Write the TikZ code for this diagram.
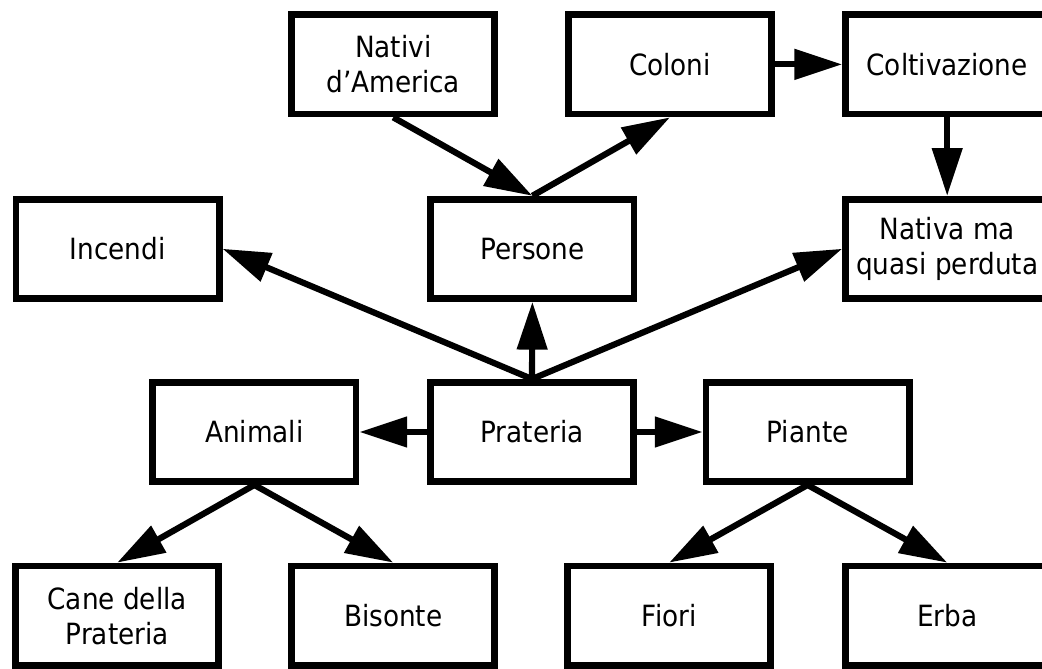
\documentclass[tikz,border=0pt]{standalone}
\usepackage{fontspec}
\setmainfont{DejaVu Sans}[FakeStretch=0.9]
\usetikzlibrary{arrows.meta}

\begin{document}
\begin{tikzpicture}[
    box/.style={draw, line width=4.8pt, minimum width=5.08cm, minimum height=2.48cm,
      align=center, font=\fontsize{20.8}{24.9}\selectfont},
    arr/.style={->, line width=4.4pt},
    >={Triangle[length=34pt,width=21pt]}
  ]
    \useasboundingbox (0cm,0cm) rectangle (26.05cm,16.7cm);

    \node[box] (nativi)   at (9.83cm,15.09cm)  {Nativi\\d’America};
    \node[box] (coloni)   at (16.75cm,15.09cm) {Coloni};
    \node[box] (coltiv)   at (23.68cm,15.09cm) {Coltivazione};
    \node[box] (incendi)  at (2.94cm,10.48cm)  {Incendi};
    \node[box] (persone)  at (13.31cm,10.48cm) {Persone};
    \node[box] (nativa)   at (23.68cm,10.48cm) {Nativa ma\\quasi perduta};
    \node[box] (animali)  at (6.36cm,5.9cm)    {Animali};
    \node[box] (prateria) at (13.3cm,5.9cm)    {Prateria};
    \node[box] (piante)   at (20.19cm,5.9cm)   {Piante};
    \node[box] (cane)     at (2.93cm,1.31cm)   {Cane della\\Prateria};
    \node[box] (bisonte)  at (9.83cm,1.31cm)   {Bisonte};
    \node[box] (fiori)    at (16.73cm,1.31cm)  {Fiori};
    \node[box] (erba)     at (23.68cm,1.31cm)  {Erba};

   \path[arr] (nativi.south) edge (persone.north);
   \path[arr] (persone.north) edge (coloni.south);
   \path[arr] (coloni) edge (coltiv);
   \path[arr] (coltiv) edge (nativa);
   \path[arr] (prateria.north) edge (persone.south);
   \path[arr] (prateria.north) edge (incendi.east);
   \path[arr] (prateria.north) edge (nativa.west);
   \path[arr] (prateria) edge (animali);
   \path[arr] (prateria) edge (piante);
   \path[arr] (animali.south) edge (cane.north);
   \path[arr] (animali.south) edge (bisonte.north);
   \path[arr] (piante.south) edge (fiori.north);
   \path[arr] (piante.south) edge (erba.north);
  \end{tikzpicture}
\end{document}
